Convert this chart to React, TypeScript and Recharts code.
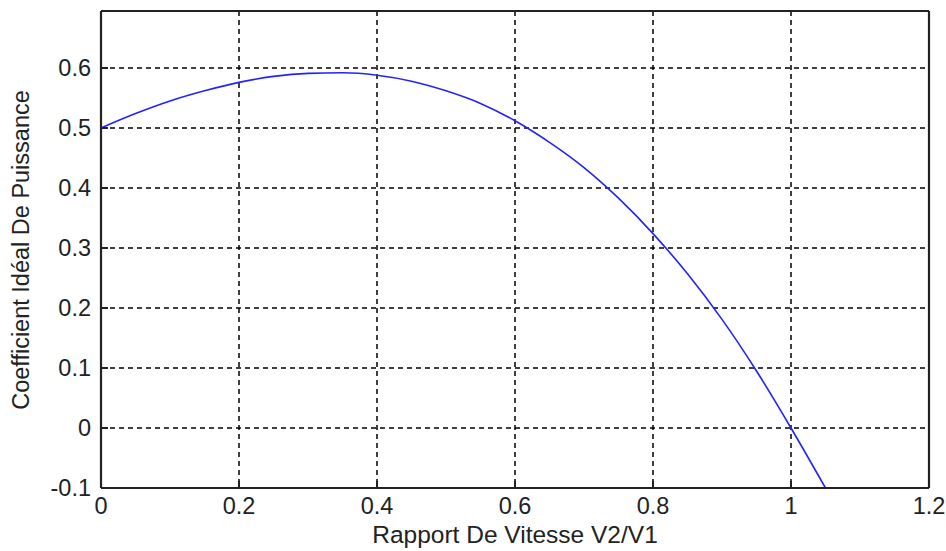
import React from 'react';
import { LineChart, Line, XAxis, YAxis, CartesianGrid, Label } from 'recharts';

// Speed ratio V2/V1 (x) and ideal power coefficient (y)
const ratio = [0, 0.05, 0.1, 0.15, 0.2, 0.25, 0.3, 0.35, 0.4, 0.45, 0.5, 0.55, 0.6, 0.65, 0.7, 0.75, 0.8, 0.85, 0.9, 0.95, 1.0, 1.05];
const coefficient = [0.5, 0.524, 0.545, 0.562, 0.576, 0.586, 0.591, 0.592, 0.588, 0.578, 0.562, 0.541, 0.512, 0.476, 0.434, 0.383, 0.324, 0.257, 0.181, 0.095, 0.0, -0.1];

const xTicks = [0, 0.2, 0.4, 0.6, 0.8, 1, 1.2];
const yTicks = [-0.1, 0, 0.1, 0.2, 0.3, 0.4, 0.5, 0.6];
const xTitle = 'Rapport De Vitesse V2/V1';
const yTitle = 'Coefficient Idéal De Puissance';

const data = ratio.map((x, i) => ({ x, cp: coefficient[i] }));

const FONT = "'Liberation Sans', Arial, Helvetica, sans-serif";
const TEXT = '#222';
const AXIS = '#222';
const tickStyle = { fill: TEXT, fontSize: 23.5, fontFamily: FONT };
const fmt = (v: number) => String(v);

export default function App() {
  return (
    <div style={{ position: 'absolute', left: 0, top: 0, width: 946, height: 551, background: '#fff' }}>
      <LineChart width={946} height={551} data={data} margin={{ top: 10, right: 16, bottom: 0, left: 0 }}>
        <CartesianGrid
          xAxisId="bottom"
          yAxisId="left"
          stroke="#000"
          strokeWidth={1.5}
          strokeDasharray="5 4"
        />
        <XAxis
          xAxisId="bottom"
          dataKey="x"
          type="number"
          domain={[0, 1.2]}
          ticks={xTicks}
          tickFormatter={fmt}
          orientation="bottom"
          height={63}
          axisLine={{ stroke: AXIS, strokeWidth: 2.2 }}
          tickLine={{ stroke: AXIS, strokeWidth: 2 }}
          tickSize={-7}
          tickMargin={16}
          tick={tickStyle}
          interval={0}
        >
          <Label
            value={xTitle}
            position="insideBottom"
            offset={8}
            style={{ fill: TEXT, fontSize: 24.5, fontFamily: FONT }}
          />
        </XAxis>
        <XAxis
          xAxisId="top"
          dataKey="x"
          type="number"
          domain={[0, 1.2]}
          ticks={xTicks}
          orientation="top"
          height={1}
          axisLine={{ stroke: AXIS, strokeWidth: 2.2 }}
          tickLine={{ stroke: AXIS, strokeWidth: 2 }}
          tickSize={-7}
          tick={false}
          interval={0}
        />
        <YAxis
          yAxisId="left"
          type="number"
          domain={[-0.1, 0.695]}
          ticks={yTicks}
          tickFormatter={fmt}
          orientation="left"
          width={101}
          axisLine={{ stroke: AXIS, strokeWidth: 2.2 }}
          tickLine={{ stroke: AXIS, strokeWidth: 2 }}
          tickSize={-7}
          tickMargin={17}
          tick={tickStyle}
          interval={0}
          allowDataOverflow
        >
          <Label
            content={() => (
              <text
                x={29}
                y={250}
                transform="rotate(-90, 29, 250)"
                textAnchor="middle"
                fill={TEXT}
                fontSize={23.5}
                fontFamily={FONT}
              >
                {yTitle}
              </text>
            )}
          />
        </YAxis>
        <YAxis
          yAxisId="right"
          type="number"
          domain={[-0.1, 0.695]}
          ticks={yTicks}
          orientation="right"
          width={1}
          axisLine={{ stroke: AXIS, strokeWidth: 2.2 }}
          tickLine={{ stroke: AXIS, strokeWidth: 2 }}
          tickSize={-7}
          tick={false}
          interval={0}
          allowDataOverflow
        />
        <Line
          xAxisId="bottom"
          yAxisId="left"
          dataKey="cp"
          type="monotone"
          stroke="#2222ff"
          strokeWidth={1.6}
          dot={false}
          activeDot={false}
          isAnimationActive={false}
        />
      </LineChart>
    </div>
  );
}
